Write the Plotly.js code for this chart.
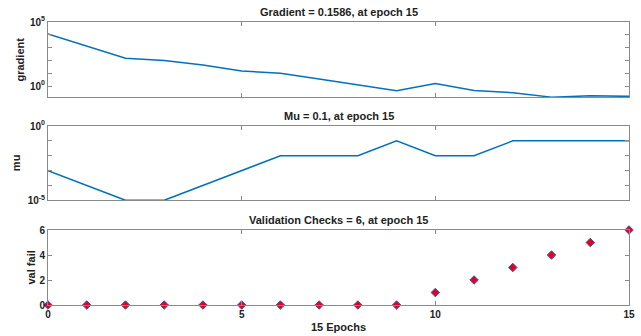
<!DOCTYPE html>
<html><head><meta charset="utf-8">
<script src="https://cdn.plot.ly/plotly-3.0.1.min.js"></script>
<style>html,body{margin:0;padding:0;background:#fff}#chart{width:641px;height:336px}</style>
</head><body><div id="chart"></div>
<script>
const epochs = [0,1,2,3,4,5,6,7,8,9,10,11,12,13,14,15];
const gradientLog = [4.06,3.1,2.17,1.99,1.65,1.18,1.0,0.55,0.08,-0.37,0.21,-0.34,-0.52,-0.86,-0.76,-0.80];
const muLog = [-3,-4,-5,-5,-4,-3,-2,-2,-2,-1,-2,-2,-1,-1,-1,-1];
const valFail = [0,0,0,0,0,0,0,0,0,0,1,2,3,4,5,6];
const titles = ["Gradient = 0.1586, at epoch 15","Mu = 0.1, at epoch 15","Validation Checks = 6, at epoch 15"];
const yTitles = ["gradient","mu","val fail"];

const gradient = gradientLog.map(v => Math.pow(10, v));
const mu = muLog.map(v => Math.pow(10, v));

const blue = '#0072BD';
const axCol = '#8a8a8a';
const font = {family:'Liberation Sans, Arial, sans-serif', size:10, color:'#222', weight:'bold'};

const traces = [
  {x:epochs, y:gradient, type:'scatter', mode:'lines', line:{color:blue, width:1.5}, xaxis:'x', yaxis:'y'},
  {x:epochs, y:mu, type:'scatter', mode:'lines', line:{color:blue, width:1.5}, xaxis:'x2', yaxis:'y2'},
  {x:epochs, y:valFail, type:'scatter', mode:'markers', marker:{symbol:'diamond', size:6.5, color:'#e8001c', line:{color:'#2a5db0', width:1}}, xaxis:'x3', yaxis:'y3', cliponaxis:false}
];

const xBase = {range:[0,15], tickvals:[0,5,10,15], ticks:'inside', ticklen:4, tickcolor:axCol,
  showline:true, linecolor:axCol, linewidth:1, mirror:'ticks', showgrid:false, zeroline:false, tickfont:font};

const yBase = {ticks:'inside', ticklen:4, tickcolor:axCol, showline:true, linecolor:axCol, linewidth:1,
  mirror:'ticks', showgrid:false, zeroline:false, tickfont:font};

const doms = [[1-97/336, 1-22/336],[1-200.3/336, 1-126/336],[1-305/336, 1-230/336]];
const yTitleX = [20, 16, 30];

const layout = {
  width:641, height:336, margin:{l:48, r:12, t:0, b:0},
  paper_bgcolor:'#fff', plot_bgcolor:'#fff', showlegend:false, font:font,
  xaxis:{...xBase, anchor:'y', showticklabels:false},
  xaxis2:{...xBase, anchor:'y2', showticklabels:false},
  xaxis3:{...xBase, anchor:'y3', title:{text:'15 Epochs', font:{...font, size:11}, standoff:4}},
  yaxis:{...yBase, domain:doms[0], type:'log', range:[-0.85,5], tickvals:[1,100000],
    ticktext:['10<sup>0</sup>','10<sup>5</sup>'],
    minor:{tickvals:[10,100,1000,10000], ticks:'inside', ticklen:4, tickcolor:axCol}},
  yaxis2:{...yBase, domain:doms[1], type:'log', range:[-5,0], tickvals:[1e-5,1],
    ticktext:['10<sup>-5</sup>','10<sup>0</sup>'],
    minor:{tickvals:[1e-4,1e-3,1e-2,1e-1], ticks:'inside', ticklen:4, tickcolor:axCol}},
  yaxis3:{...yBase, domain:doms[2], range:[0,6], tickvals:[0,2,4,6]},
  annotations: titles.map((t,i) => ({text:t, xref:'paper', yref:'paper', x:0.5, y:doms[i][1], yshift:2,
    xanchor:'center', yanchor:'bottom', showarrow:false, font:{...font, size:11}}))
  .concat(yTitles.map((t,i) => ({text:t, xref:'paper', yref:'paper', x:(yTitleX[i]-48)/581,
    y:(doms[i][0]+doms[i][1])/2, xanchor:'center', yanchor:'middle', textangle:-90, showarrow:false,
    font:{...font, size:11}})))
};

Plotly.newPlot('chart', traces, layout, {displayModeBar:false, staticPlot:true});
</script></body></html>
